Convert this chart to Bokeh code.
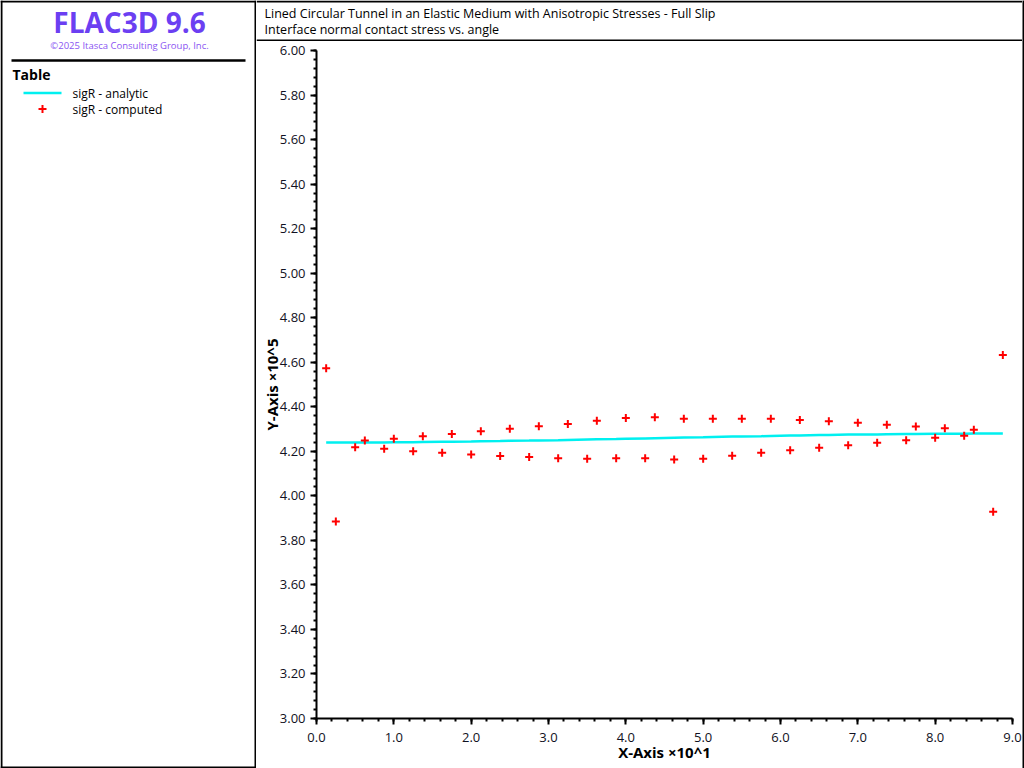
from bokeh.plotting import figure
from bokeh.layouts import row, column
from bokeh.models import Range1d, SingleIntervalTicker, PrintfTickFormatter, ColumnDataSource
from bokeh.core.properties import value
from bokeh.embed import file_html
from bokeh.resources import INLINE

# ---------------- data (x in units of 10 deg, y in units of 1e5) ----------------
angle = [0.125, 0.25, 0.5, 0.625, 0.875, 1.0, 1.25, 1.375, 1.625, 1.75, 2.0, 2.125,
         2.375, 2.5, 2.75, 2.875, 3.125, 3.25, 3.5, 3.625, 3.875, 4.0, 4.25, 4.375,
         4.625, 4.75, 5.0, 5.125, 5.375, 5.5, 5.75, 5.875, 6.125, 6.25, 6.5, 6.625,
         6.875, 7.0, 7.25, 7.375, 7.625, 7.75, 8.0, 8.125, 8.375, 8.5, 8.75, 8.875]
sigr_computed = [4.573, 3.885, 4.218, 4.248, 4.211, 4.256, 4.200, 4.268, 4.193, 4.278,
                 4.186, 4.290, 4.179, 4.301, 4.174, 4.313, 4.169, 4.323, 4.166, 4.337,
                 4.169, 4.350, 4.169, 4.353, 4.163, 4.346, 4.166, 4.346, 4.180, 4.346,
                 4.193, 4.346, 4.205, 4.341, 4.216, 4.335, 4.227, 4.328, 4.238, 4.319,
                 4.250, 4.311, 4.261, 4.304, 4.270, 4.297, 3.928, 4.633]
sigr_analytic = [4.240, 4.240, 4.240, 4.240, 4.240, 4.241, 4.241, 4.242, 4.243, 4.243,
                 4.244, 4.245, 4.246, 4.247, 4.248, 4.249, 4.250, 4.251, 4.253, 4.254,
                 4.255, 4.256, 4.258, 4.259, 4.261, 4.262, 4.263, 4.264, 4.266, 4.267,
                 4.268, 4.269, 4.271, 4.271, 4.273, 4.273, 4.275, 4.275, 4.276, 4.277,
                 4.278, 4.278, 4.279, 4.279, 4.279, 4.280, 4.280, 4.280]

title_lines = ["Lined Circular Tunnel in an Elastic Medium with Anisotropic Stresses - Full Slip",
               "Interface normal contact stress vs. angle"]
legend_title = "Table"
legend_labels = ["sigR - analytic", "sigR - computed"]
brand = "FLAC3D 9.6"
copyright_text = "\u00a92025 Itasca Consulting Group, Inc."
x_label = "X-Axis \u00d710^1"
y_label = "Y-Axis \u00d710^5"

CYAN = "#00f0f0"
RED = "#ff0000"
PURPLE = "#6b3ff2"
FONT = "Open Sans"


def blank(w, h, xr, yr):
    f = figure(width=w, height=h, x_range=xr, y_range=yr, toolbar_location=None,
               output_backend="svg", x_axis_location=None, y_axis_location=None,
               min_border=0, outline_line_color=None)
    f.grid.visible = False
    f.frame_align = False
    return f

# ---------------- left panel ----------------
left = blank(256, 768, Range1d(0, 256), Range1d(768, 0))
left.segment(x0=[1, 0, 0, 255], y0=[0, 1, 767, 0], x1=[1, 256, 256, 255], y1=[768, 1, 767, 768],
             line_color="black", line_width=2)
left.segment(x0=[11], y0=[60], x1=[245], y1=[60], line_color="black", line_width=2.5)
left.text(x=[129], y=[21], text=[brand], text_font=value(FONT), text_font_style="bold",
          text_font_size="28px", text_color=PURPLE, text_align="center", text_baseline="middle")
left.text(x=[129], y=[45], text=[copyright_text], text_font=value(FONT),
          text_font_size="9.5px", text_color="#8a55f2", text_align="center", text_baseline="middle")
left.text(x=[12], y=[74], text=[legend_title], text_font=value(FONT), text_font_style="bold",
          text_font_size="14px", text_color="black", text_baseline="middle")
left.segment(x0=[23], y0=[92.5], x1=[61], y1=[92.5], line_color=CYAN, line_width=2.5)
left.scatter(x=[42], y=[108.5], marker="cross", size=8, line_width=2, line_color=RED)
left.text(x=[72, 72], y=[92.5, 108.5], text=legend_labels, text_font=value(FONT),
          text_font_size="12px", text_color="black", text_baseline="middle")

# ---------------- title box ----------------
tbox = blank(766, 41, Range1d(0, 766), Range1d(41, 0))
tbox.segment(x0=[0, 0], y0=[1, 40], x1=[766, 766], y1=[1, 40], line_color="black", line_width=2)
tbox.text(x=[8, 8], y=[12.5, 28.5], text=title_lines, text_font=value(FONT),
          text_font_size="12.5px", text_color="black", text_baseline="middle")

# ---------------- main plot ----------------
src = ColumnDataSource(dict(x=angle, comp=sigr_computed, ana=sigr_analytic))
p = figure(width=766, height=725, x_range=Range1d(0, 9), y_range=Range1d(3, 6),
           toolbar_location=None, output_backend="svg",
           min_border_left=60, min_border_right=10, min_border_top=9, min_border_bottom=48,
           outline_line_color=None)
p.frame_align = False
p.grid.visible = False
p.line("x", "ana", source=src, line_color=CYAN, line_width=2.5)
p.scatter("x", "comp", source=src, marker="cross", size=8, line_width=2, line_color=RED)

p.xaxis.ticker = SingleIntervalTicker(interval=1, num_minor_ticks=5)
p.yaxis.ticker = SingleIntervalTicker(interval=0.2, num_minor_ticks=5)
p.xaxis.formatter = PrintfTickFormatter(format="%.1f")
p.yaxis.formatter = PrintfTickFormatter(format="%.2f")
p.xaxis.axis_label = x_label
p.yaxis.axis_label = y_label
for ax in (p.xaxis, p.yaxis):
    ax.axis_line_width = 2
    ax.axis_line_color = "black"
    ax.major_tick_line_width = 2
    ax.minor_tick_line_width = 2
    ax.major_tick_line_color = "black"
    ax.minor_tick_line_color = "black"
    ax.major_tick_out = 6
    ax.major_tick_in = 0
    ax.minor_tick_out = 3
    ax.minor_tick_in = 0
    ax.major_label_text_font = FONT
    ax.major_label_text_font_size = "13px"
    ax.major_label_text_color = "#111122"
    ax.axis_label_text_font = FONT
    ax.axis_label_text_font_style = "bold"
    ax.axis_label_text_font_size = "15px"
    ax.axis_label_text_color = "black"
p.xaxis.major_label_standoff = 8
p.xaxis.axis_label_standoff = -3
p.yaxis.major_label_standoff = 5
p.yaxis.axis_label_standoff = -5

hbar = blank(766, 2, Range1d(0, 1), Range1d(0, 1))
hbar.background_fill_color = "black"
hbar.border_fill_color = "black"
vbar = blank(2, 768, Range1d(0, 1), Range1d(0, 1))
vbar.background_fill_color = "black"
vbar.border_fill_color = "black"

layout = row(left, column(tbox, p, hbar), vbar)
open("out.html", "w").write(file_html(layout, INLINE))
